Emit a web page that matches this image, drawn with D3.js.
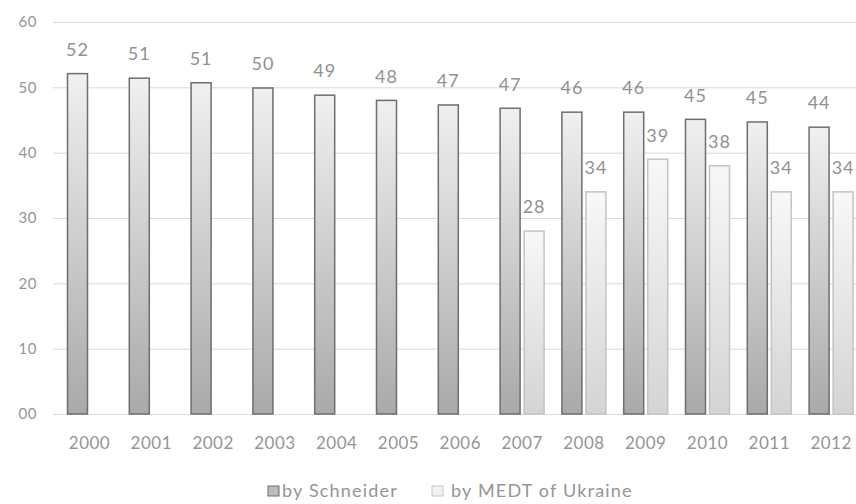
<!DOCTYPE html>
<html>
<head>
<meta charset="utf-8">
<script src="https://cdn.jsdelivr.net/npm/d3@7"></script>
<style>
  html, body { margin: 0; padding: 0; background: #ffffff; }
  svg { display: block; }
  text { font-family: Lato, "Open Sans", sans-serif; fill: #7f7f7f; }
</style>
</head>
<body>
<svg id="chart" width="856" height="504"></svg>
<script>
// Shadow economy share estimates, % of GDP
const years = ["2000","2001","2002","2003","2004","2005","2006","2007","2008","2009","2010","2011","2012"];
const schneider = [52.1, 51.4, 50.7, 49.9, 48.8, 48.0, 47.3, 46.8, 46.2, 46.2, 45.1, 44.7, 43.9];
const medt = [null, null, null, null, null, null, null, 28, 34, 39, 38, 34, 34];
const seriesNames = ["by Schneider", "by MEDT of Ukraine"];
const yTicks = [0, 10, 20, 30, 40, 50, 60];
const yTickLabels = ["00", "10", "20", "30", "40", "50", "60"];

const svg = d3.select("#chart");
const W = 856, H = 504;

const x0 = d3.scaleBand()
  .domain(years)
  .range([58.6, 862])
  .paddingInner(0.288)
  .paddingOuter(0.144);

const x1 = d3.scaleBand()
  .domain(seriesNames)
  .range([0, x0.bandwidth()])
  .paddingInner(0.1667);

const y = d3.scaleLinear().domain([0, 60]).range([414, 22]);

// gradients for the two series
const defs = svg.append("defs");
const g1 = defs.append("linearGradient").attr("id", "gradS").attr("x1", 0).attr("y1", 0).attr("x2", 0).attr("y2", 1);
g1.append("stop").attr("offset", "0%").attr("stop-color", "#f0f0f0");
g1.append("stop").attr("offset", "100%").attr("stop-color", "#a9a9a9");
const g2 = defs.append("linearGradient").attr("id", "gradM").attr("x1", 0).attr("y1", 0).attr("x2", 0).attr("y2", 1);
g2.append("stop").attr("offset", "0%").attr("stop-color", "#f8f8f8");
g2.append("stop").attr("offset", "100%").attr("stop-color", "#d4d4d4");

const fills = { "by Schneider": "url(#gradS)", "by MEDT of Ukraine": "url(#gradM)" };
const strokes = { "by Schneider": "#6e6e6e", "by MEDT of Ukraine": "#c4c4c4" };

// gridlines and y labels
const yAxis = d3.axisLeft(y)
  .tickValues(yTicks)
  .tickSize(-(W + 20 - 53))
  .tickFormat((d, i) => yTickLabels[i]);
const ya = svg.append("g").attr("transform", "translate(53,0)").call(yAxis);
ya.select(".domain").remove();
ya.selectAll(".tick line").attr("stroke", "#dadada").attr("stroke-width", 1);
ya.selectAll(".tick text")
  .attr("x", -16)
  .attr("font-size", 15)
  .attr("letter-spacing", 0.5)
  .style("fill", "#959595");

// x labels
const xAxis = d3.axisBottom(x0).tickSize(0).tickPadding(0);
const xa = svg.append("g").attr("transform", "translate(0,437)").call(xAxis);
xa.select(".domain").remove();
xa.selectAll(".tick text")
  .attr("font-size", 17)
  .attr("letter-spacing", 0.5)
  .attr("dy", "0.71em")
  .style("fill", "#959595");

// bars
const rows = years.map((yr, i) => ({
  year: yr,
  vals: [
    { key: seriesNames[0], v: schneider[i] },
    { key: seriesNames[1], v: medt[i] }
  ].filter(d => d.v != null)
}));

const groups = svg.append("g").selectAll("g")
  .data(rows).join("g")
  .attr("transform", d => `translate(${x0(d.year)},0)`);

groups.selectAll("rect")
  .data(d => d.vals).join("rect")
  .attr("x", d => x1(d.key))
  .attr("width", x1.bandwidth())
  .attr("y", d => y(d.v))
  .attr("height", d => y(0) - y(d.v))
  .attr("fill", d => fills[d.key])
  .attr("stroke", d => strokes[d.key])
  .attr("stroke-width", 1.5);

groups.selectAll("text.val")
  .data(d => d.vals).join("text")
  .attr("class", "val")
  .attr("x", d => x1(d.key) + x1.bandwidth() / 2)
  .attr("y", d => y(d.v) - 24)
  .attr("dy", "0.35em")
  .attr("text-anchor", "middle")
  .attr("font-size", 18)
  .attr("letter-spacing", 1)
  .style("fill", "#919191")
  .text(d => d3.format(".0f")(d.v));

// legend
const legend = svg.append("g");
const legendItems = [
  { key: seriesNames[0], sx: 268, tx: 282 },
  { key: seriesNames[1], sx: 432, tx: 451 }
];
legendItems.forEach(it => {
  legend.append("rect")
    .attr("x", it.sx).attr("y", 486)
    .attr("width", 11).attr("height", 10)
    .attr("fill", it.key === seriesNames[0] ? "#bdbdbd" : "#f2f2f2")
    .attr("stroke", strokes[it.key]).attr("stroke-width", 1);
  legend.append("text")
    .attr("x", it.tx).attr("y", 491)
    .attr("dy", "0.35em")
    .attr("font-size", 18)
    .attr("letter-spacing", 1.2)
    .style("fill", "#959595")
    .text(it.key);
});
</script>
</body>
</html>
